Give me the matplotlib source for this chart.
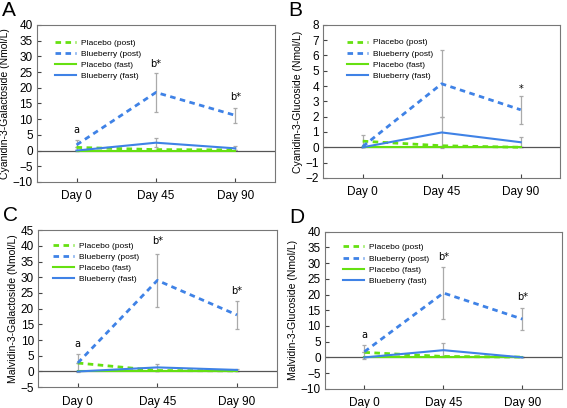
import matplotlib.pyplot as plt

plt.rcParams['font.family'] = ['Liberation Sans', 'DejaVu Sans']

days = ['Day 0', 'Day 45', 'Day 90']
x = [0, 1, 2]

# panel A: Cyanidin-3-Galactoside
a_plac_post = [1.0, 0.3, 0.2]
a_blue_post = [1.8, 18.5, 11.2]
a_plac_fast = [0, 0, 0]
a_blue_fast = [0, 2.5, 0.7]
a_err_plac = [0, 0, 0]
a_err_post = [1.7, 6.2, 2.3]
a_err_fast = [0, 1.5, 0.6]

# panel B: Cyanidin-3-Glucoside
b_plac_post = [0.4, 0.1, 0.0]
b_blue_post = [0.05, 4.15, 2.45]
b_plac_fast = [0, 0, 0]
b_blue_fast = [0, 0.97, 0.33]
b_err_plac = [0.4, 0, 0]
b_err_post = [0, 2.2, 0.9]
b_err_fast = [0, 1.03, 0.33]

# panel C: Malvidin-3-Galactoside
c_plac_post = [2.7, 0.3, 0.2]
c_blue_post = [2.7, 29.0, 18.0]
c_plac_fast = [0, 0, 0]
c_blue_fast = [0, 1.3, 0.5]
c_err_plac = [0, 0, 0]
c_err_post = [2.8, 8.5, 4.5]
c_err_fast = [0, 1.2, 0.4]

# panel D: Malvidin-3-Glucoside
d_plac_post = [1.6, 0.3, 0.1]
d_blue_post = [1.8, 20.5, 12.2]
d_plac_fast = [0, 0, 0]
d_blue_fast = [0, 2.3, 0]
d_err_plac = [0, 0, 0]
d_err_post = [2.2, 8.3, 3.5]
d_err_fast = [0, 2.2, 0]

panels = [
    ('A', 'Cyanidin-3-Galactoside (Nmol/L)', a_plac_post, a_blue_post, a_plac_fast, a_blue_fast,
     a_err_plac, a_err_post, a_err_fast, (-10, 40), 5, [('a', 0, 5.0), ('b*', 1, 26.0), ('b*', 2, 15.5)]),
    ('B', 'Cyanidin-3-Glucoside (Nmol/L)', b_plac_post, b_blue_post, b_plac_fast, b_blue_fast,
     b_err_plac, b_err_post, b_err_fast, (-2, 8), 1, [('*', 2, 3.5)]),
    ('C', 'Malvidin-3-Galactoside (Nmol/L)', c_plac_post, c_blue_post, c_plac_fast, c_blue_fast,
     c_err_plac, c_err_post, c_err_fast, (-5, 45), 5, [('a', 0, 7.0), ('b*', 1, 40.0), ('b*', 2, 24.0)]),
    ('D', 'Malvidin-3-Glucoside (Nmol/L)', d_plac_post, d_blue_post, d_plac_fast, d_blue_fast,
     d_err_plac, d_err_post, d_err_fast, (-10, 40), 5, [('a', 0, 5.5), ('b*', 1, 30.5), ('b*', 2, 17.5)]),
]

rects = [[0.065, 0.554, 0.420, 0.385],
         [0.570, 0.564, 0.418, 0.375],
         [0.067, 0.051, 0.421, 0.385],
         [0.573, 0.047, 0.418, 0.385]]
leg_xy = [(0.075, 0.91), (0.10, 0.91), (0.063, 0.925), (0.076, 0.925)]

green = '#66e011'
blue = '#3f82e6'
grey = '#aaaaaa'

fig = plt.figure(figsize=(5.67, 4.08), dpi=100)

for rect, lxy, p in zip(rects, leg_xy, panels):
    letter, ylab, pp, bp, pf, bf, epl, ep, ef, ylim, step, notes = p
    ax = fig.add_axes(rect)
    for vals, err in [(pp, epl), (bp, ep), (bf, ef)]:
        ax.errorbar(x, vals, yerr=err, fmt='none', ecolor=grey, elinewidth=0.9,
                    capsize=1.5, capthick=0.9, zorder=1)
    ax.axhline(0, color='#555555', lw=0.9, zorder=2)
    ax.plot(x, pp, color=green, lw=2, ls=(0, (2, 1.6)), label='Placebo (post)', zorder=3)
    ax.plot(x, bp, color=blue, lw=2, ls=(0, (2, 1.6)), label='Blueberry (post)', zorder=3)
    ax.plot(x, pf, color=green, lw=1.5, label='Placebo (fast)', zorder=3)
    ax.plot(x, bf, color=blue, lw=1.5, label='Blueberry (fast)', zorder=3)
    for t, xi, yi in notes:
        ax.text(xi, yi, t, ha='center', va='bottom', fontsize=7, family='DejaVu Sans')
    ax.set_xlim(-0.5, 2.5)
    ax.set_ylim(*ylim)
    ax.set_yticks(range(ylim[0], ylim[1] + 1, step))
    ax.set_xticks(x)
    ax.set_xticklabels(days)
    ax.tick_params(direction='in', length=3, width=0.8, color='#444444', labelsize=8.5, pad=3)
    ax.tick_params(axis='x', pad=6)
    for s in ax.spines.values():
        s.set_color('#777777')
        s.set_linewidth(0.8)
    ax.set_ylabel(ylab, fontsize=7.5, labelpad=2)
    ax.legend(loc='upper left', bbox_to_anchor=lxy, frameon=False, fontsize=6,
              handlelength=2.5, labelspacing=0.4, handletextpad=0.6, borderaxespad=0, borderpad=0)
    fig.text(rect[0] - 0.062, rect[1] + rect[3] + 0.012, letter, fontsize=15, va='bottom', ha='left')

fig.savefig('out.png', dpi=100)
